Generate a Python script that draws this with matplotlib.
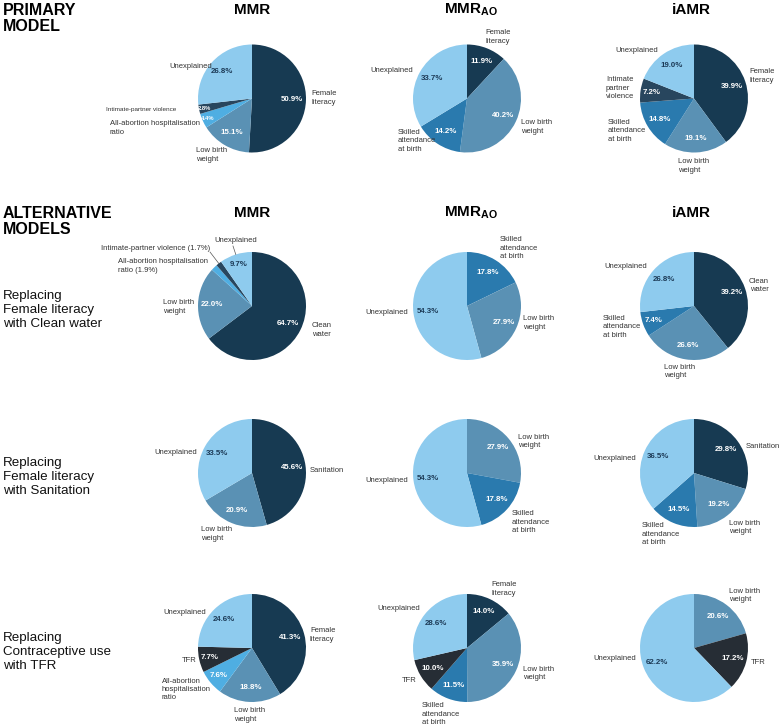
import matplotlib
matplotlib.use('Agg')
import matplotlib.pyplot as plt
import numpy as np

plt.rcParams['font.family'] = ['Liberation Sans', 'DejaVu Sans']
plt.rcParams['mathtext.fontset'] = 'custom'
plt.rcParams['mathtext.rm'] = 'Liberation Sans'
plt.rcParams['mathtext.bf'] = 'Liberation Sans:bold'

# ---------------- data ----------------
col_titles = ['MMR', r'$\mathbf{MMR}_{\mathbf{AO}}$', 'iAMR']
section_titles = ['PRIMARY\nMODEL', 'ALTERNATIVE\nMODELS']
row_titles = ['Replacing\nFemale literacy\nwith Clean water',
              'Replacing\nFemale literacy\nwith Sanitation',
              'Replacing\nContraceptive use\nwith TFR']

primary_mmr_cats = ['Female literacy', 'Low birth weight', 'All-abortion hospitalisation ratio',
                    'Intimate-partner violence', 'Unexplained']
primary_mmr_vals = [50.9, 15.1, 4.4, 2.8, 26.8]
primary_mmrao_cats = ['Female literacy', 'Low birth weight', 'Skilled attendance at birth', 'Unexplained']
primary_mmrao_vals = [11.9, 40.2, 14.2, 33.7]
primary_iamr_cats = ['Female literacy', 'Low birth weight', 'Skilled attendance at birth',
                     'Intimate-partner violence', 'Unexplained']
primary_iamr_vals = [39.9, 19.1, 14.8, 7.2, 19.0]

water_mmr_cats = ['Clean water', 'Low birth weight', 'All-abortion hospitalisation ratio',
                  'Intimate-partner violence', 'Unexplained']
water_mmr_vals = [64.7, 22.0, 1.9, 1.7, 9.7]
water_mmrao_cats = ['Skilled attendance at birth', 'Low birth weight', 'Unexplained']
water_mmrao_vals = [17.8, 27.9, 54.3]
water_iamr_cats = ['Clean water', 'Low birth weight', 'Skilled attendance at birth', 'Unexplained']
water_iamr_vals = [39.2, 26.6, 7.4, 26.8]

san_mmr_cats = ['Sanitation', 'Low birth weight', 'Unexplained']
san_mmr_vals = [45.6, 20.9, 33.5]
san_mmrao_cats = ['Low birth weight', 'Skilled attendance at birth', 'Unexplained']
san_mmrao_vals = [27.9, 17.8, 54.3]
san_iamr_cats = ['Sanitation', 'Low birth weight', 'Skilled attendance at birth', 'Unexplained']
san_iamr_vals = [29.8, 19.2, 14.5, 36.5]

tfr_mmr_cats = ['Female literacy', 'Low birth weight', 'All-abortion hospitalisation ratio', 'TFR', 'Unexplained']
tfr_mmr_vals = [41.3, 18.8, 7.6, 7.7, 24.6]
tfr_mmrao_cats = ['Female literacy', 'Low birth weight', 'Skilled attendance at birth', 'TFR', 'Unexplained']
tfr_mmrao_vals = [14.0, 35.9, 11.5, 10.0, 28.6]
tfr_iamr_cats = ['Low birth weight', 'TFR', 'Unexplained']
tfr_iamr_vals = [20.6, 17.2, 62.2]

# ---------------- styles ----------------
DARK = '#173a52'
COLORS = {
    'Female literacy': DARK, 'Clean water': DARK, 'Sanitation': DARK,
    'Low birth weight': '#5a91b4',
    'Skilled attendance at birth': '#2a7aae',
    'Unexplained': '#8ecbee',
    'All-abortion hospitalisation ratio': '#4faee2',
    'Intimate-partner violence': '#28465e',
    'TFR': '#262d35',
}
LABEL_COLOR = '#333333'
UNEXPL_TXT = '#1c3a56'

# ---------------- layout (pixel coordinates of the 780x728 canvas) ----------------
W, H = 780, 728
R = 54
col_x = [252, 467, 694]
row_y = [98.5, 306, 473, 648]

# label text, horizontal alignment, anchor x, anchor y, options
LAYOUT = {
    'primary_mmr': [('Female\nliteracy', 'left', 311, 98, {}),
                    ('Low birth\nweight', 'left', 196, 155, {}),
                    ('All-abortion hospitalisation\nratio', 'right', 200, 128, {}),
                    ('Intimate-partner violence', 'right', 176, 110, {'small': True}),
                    ('Unexplained', 'right', 212, 66, {})],
    'primary_mmrao': [('Female\nliteracy', 'center', 498, 37, {}),
                      ('Low birth\nweight', 'left', 521, 127, {}),
                      ('Skilled\nattendance\nat birth', 'left', 398, 141, {}),
                      ('Unexplained', 'right', 413, 71, {})],
    'primary_iamr': [('Female\nliteracy', 'center', 762, 76, {}),
                     ('Low birth\nweight', 'left', 678, 166, {}),
                     ('Skilled\nattendance\nat birth', 'left', 608, 131, {}),
                     ('Intimate\npartner\nviolence', 'left', 606, 88, {}),
                     ('Unexplained', 'right', 658, 51, {})],
    'water_mmr': [('Clean\nwater', 'left', 312, 330, {}),
                  ('Low birth\nweight', 'left', 163, 307, {}),
                  ('All-abortion hospitalisation\nratio ({pct})', 'right', 208, 266, {}),
                  ('Intimate-partner violence ({pct})', 'right', 210, 248, {'leader': (210, 252)}),
                  ('Unexplained', 'center', 236, 241, {'leader': (233, 246)})],
    'water_mmrao': [('Skilled\nattendance\nat birth', 'left', 500, 248, {}),
                    ('Low birth\nweight', 'left', 523, 323, {}),
                    ('Unexplained', 'right', 408, 312, {})],
    'water_iamr': [('Clean\nwater', 'center', 759, 285.5, {}),
                   ('Low birth\nweight', 'left', 664, 371.5, {}),
                   ('Skilled\nattendance\nat birth', 'left', 603, 327, {}),
                   ('Unexplained', 'right', 647, 266, {})],
    'san_mmr': [('Sanitation', 'left', 310, 470, {}),
                ('Low birth\nweight', 'left', 201, 534, {}),
                ('Unexplained', 'right', 197, 452, {})],
    'san_mmrao': [('Low birth\nweight', 'left', 518, 441.5, {}),
                  ('Skilled\nattendance\nat birth', 'left', 512, 522, {}),
                  ('Unexplained', 'right', 408, 480, {})],
    'san_iamr': [('Sanitation', 'left', 746, 447, {}),
                 ('Low birth\nweight', 'left', 729, 527.5, {}),
                 ('Skilled\nattendance\nat birth', 'left', 642, 534, {}),
                 ('Unexplained', 'right', 636, 458, {})],
    'tfr_mmr': [('Female\nliteracy', 'left', 310, 635, {}),
                ('Low birth\nweight', 'left', 234, 715, {}),
                ('All-abortion\nhospitalisation\nratio', 'left', 162, 689.5, {}),
                ('TFR', 'right', 197, 661, {}),
                ('Unexplained', 'right', 206, 612, {})],
    'tfr_mmrao': [('Female\nliteracy', 'center', 504, 589, {}),
                  ('Low birth\nweight', 'left', 523, 673.5, {}),
                  ('Skilled\nattendance\nat birth', 'left', 422, 714, {}),
                  ('TFR', 'right', 417, 680, {}),
                  ('Unexplained', 'right', 420, 609, {})],
    'tfr_iamr': [('Low birth\nweight', 'left', 729, 595.5, {}),
                 ('TFR', 'left', 751, 663, {}),
                 ('Unexplained', 'right', 636, 658, {})],
}

PIES = [
    ('primary_mmr', 0, 0, primary_mmr_cats, primary_mmr_vals),
    ('primary_mmrao', 0, 1, primary_mmrao_cats, primary_mmrao_vals),
    ('primary_iamr', 0, 2, primary_iamr_cats, primary_iamr_vals),
    ('water_mmr', 1, 0, water_mmr_cats, water_mmr_vals),
    ('water_mmrao', 1, 1, water_mmrao_cats, water_mmrao_vals),
    ('water_iamr', 1, 2, water_iamr_cats, water_iamr_vals),
    ('san_mmr', 2, 0, san_mmr_cats, san_mmr_vals),
    ('san_mmrao', 2, 1, san_mmrao_cats, san_mmrao_vals),
    ('san_iamr', 2, 2, san_iamr_cats, san_iamr_vals),
    ('tfr_mmr', 3, 0, tfr_mmr_cats, tfr_mmr_vals),
    ('tfr_mmrao', 3, 1, tfr_mmrao_cats, tfr_mmrao_vals),
    ('tfr_iamr', 3, 2, tfr_iamr_cats, tfr_iamr_vals),
]

fig = plt.figure(figsize=(W / 100, H / 100), dpi=100)
ax = fig.add_axes([0, 0, 1, 1])


def Y(y):
    return H - y


LBL_FS = 5.5
PCT_FS = 5.7

for key, r, c, cats, vals in PIES:
    cx, cy = col_x[c], Y(row_y[r])
    wedges, _ = ax.pie(vals, colors=[COLORS[k] for k in cats], startangle=90,
                       counterclock=False, center=(cx, cy), radius=R,
                       wedgeprops=dict(linewidth=0), frame=True)
    for w, cat, v, lay in zip(wedges, cats, vals, LAYOUT[key]):
        txt, ha, lx, ly, opt = lay
        mid = np.deg2rad((w.theta1 + w.theta2) / 2)
        pct = f'{v:.1f}%'
        inline = '{pct}' in txt
        txt = txt.replace('{pct}', pct)
        fs = 4.6 if opt.get('small') else LBL_FS
        ax.text(lx, Y(ly), txt, ha=ha, va='center', fontsize=fs, color=LABEL_COLOR,
                multialignment='center' if ha == 'center' else 'left', linespacing=1.25)
        if 'leader' in opt:
            ex, ey = opt['leader']
            ax.plot([cx + R * np.cos(mid), ex], [cy + R * np.sin(mid), Y(ey)],
                    color='#555555', lw=0.5)
        if not inline:
            d = 0.74 if v >= 10 else (0.8 if v >= 5 else 0.9)
            pfs = PCT_FS if v >= 5 else 4.2
            ax.text(cx + d * R * np.cos(mid), cy + d * R * np.sin(mid), pct,
                    ha='center', va='center', fontsize=pfs, fontweight='bold',
                    color=UNEXPL_TXT if cat == 'Unexplained' else 'white')

# headers
for i, t in enumerate(col_titles):
    hx = col_x[i] + (4 if i == 1 else (-3 if i == 2 else 0))
    ax.text(hx, Y(10), t, ha='center', va='center', fontsize=11, fontweight='bold', color='black')
    ax.text(hx, Y(213), t, ha='center', va='center', fontsize=11, fontweight='bold', color='black')

ax.text(3, Y(18.5), section_titles[0], ha='left', va='center', fontsize=11.5,
        fontweight='bold', color='black', linespacing=1.15)
ax.text(3, Y(221.5), section_titles[1], ha='left', va='center', fontsize=11.5,
        fontweight='bold', color='black', linespacing=1.15)

for i, t in enumerate(row_titles):
    ax.text(3, Y(row_y[i + 1] + 4), t, ha='left', va='center', fontsize=9.6,
            color='#111111', linespacing=1.2)

ax.set_xlim(0, W)
ax.set_ylim(0, H)
ax.set_aspect('auto')
ax.axis('off')
fig.savefig('out.png', dpi=100, facecolor='white')
